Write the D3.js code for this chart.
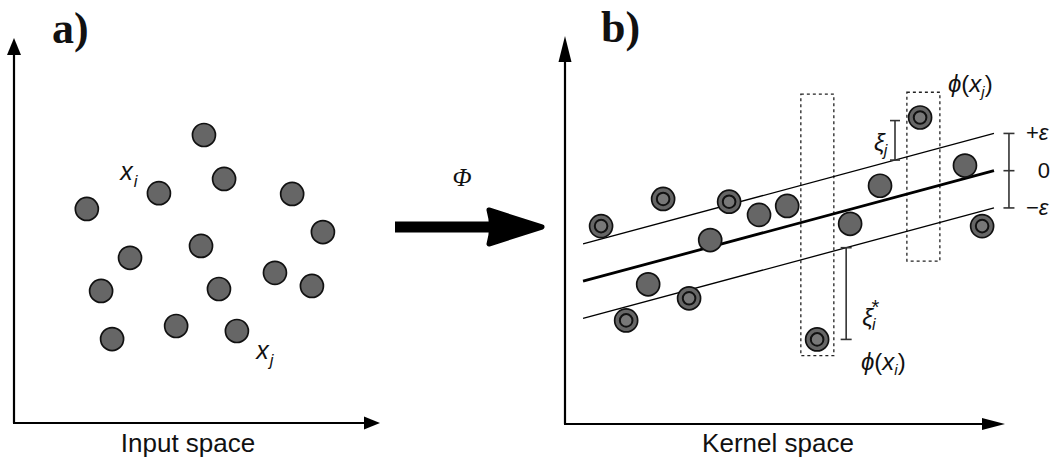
<!DOCTYPE html>
<html><head><meta charset="utf-8">
<script src="https://cdn.jsdelivr.net/npm/d3@7"></script>
<style>
body{margin:0;background:#fff}
svg{display:block}
text{font-family:"Liberation Sans",Arial,sans-serif;fill:#111}
.serif{font-family:"Liberation Serif","Times New Roman",serif}
</style>
</head><body>
<svg id="fig" width="1062" height="462"></svg>
<script>
// ---- Panel a: samples in the input space (abstract units 0..100) ----
const inputPoints = [
  [51.9, 74.8], [57.4, 63.4], [39.6, 59.7], [76.0, 59.5], [19.9, 55.6],
  [84.4, 49.6], [51.1, 46.0], [31.7, 42.9], [71.3, 39.0], [81.4, 35.6],
  [23.8, 34.3], [56.0, 34.8], [44.3, 25.2], [26.8, 21.8], [60.9, 23.9]
];
const inputLabels = [
  {base: "x", sub: "i", x: 29.0, y: 63.1},
  {base: "x", sub: "j", x: 66.2, y: 16.6}
];

// ---- Panel b: mapped samples in the kernel space ----
// third entry: 1 = support vector (ringed marker)
const kernelPoints = [
  [8.2, 51.0, 1], [22.3, 58.0, 1], [37.3, 57.3, 1], [44.1, 53.9, 0],
  [50.5, 56.2, 0], [33.0, 47.4, 0], [64.8, 51.6, 0], [71.6, 61.4, 0],
  [80.7, 79.0, 1], [90.9, 66.6, 0], [94.8, 51.0, 1], [18.9, 36.0, 0],
  [28.2, 32.4, 1], [13.9, 26.7, 1], [57.3, 21.8, 1]
];
// regression function f(x) = slope * x + intercept, with tube of half-width epsilon
const slope = 0.305;
const intercept = 35.55;
const epsilon = 9.6;
const fitRange = [4.1, 97.5];
// slack variables: position and the sample they reach
const slackUpper = {x: 75.0, to: 78.2};   // xi_j (above the tube)
const slackLower = {x: 63.9, to: 21.8};   // xi_i* (below the tube)
// dashed frames around the two outliers: [x0, x1, y0, y1]
const outlierFrames = [[53.6, 61.1, 17.6, 85.0], [77.7, 85.2, 42.0, 85.5]];
const tubeTicks = [
  {k: 1, label: "+ε"}, {k: 0, label: "0"}, {k: -1, label: "−ε"}
];
const tubeTickX = 100.9;

const svg = d3.select("#fig");

const xA = d3.scaleLinear().domain([0, 100]).range([14, 380]);
const yA = d3.scaleLinear().domain([0, 100]).range([423, 38]);
const xB = d3.scaleLinear().domain([0, 100]).range([565, 1005]);
const yB = d3.scaleLinear().domain([0, 100]).range([424, 36]);

const R = 11.5;

function marker(g, cx, cy, ringed) {
  g.append("circle").attr("cx", cx).attr("cy", cy).attr("r", R)
    .attr("fill", "#666").attr("stroke", "#111").attr("stroke-width", 1.7);
  if (ringed) {
    g.append("circle").attr("cx", cx).attr("cy", cy).attr("r", 6.3)
      .attr("fill", "#787878").attr("stroke", "#111").attr("stroke-width", 2);
  }
}

function axes(g, x0, y0, xEnd, yEnd, vHead, hHead) {
  g.append("line").attr("x1", x0).attr("y1", y0).attr("x2", x0).attr("y2", yEnd + vHead[0] - 2)
    .attr("stroke", "#000").attr("stroke-width", 2.2);
  g.append("line").attr("x1", x0 - 1).attr("y1", y0).attr("x2", xEnd - hHead[0] + 2).attr("y2", y0)
    .attr("stroke", "#000").attr("stroke-width", 2.2);
  g.append("path")
    .attr("d", `M${x0},${yEnd} L${x0 - vHead[1]},${yEnd + vHead[0]} L${x0 + vHead[1]},${yEnd + vHead[0]} Z`)
    .attr("fill", "#000");
  g.append("path")
    .attr("d", `M${xEnd},${y0} L${xEnd - hHead[0]},${y0 - hHead[1]} L${xEnd - hHead[0]},${y0 + hHead[1]} Z`)
    .attr("fill", "#000");
}

function subText(g, x, y, base, sub, size, opts = {}) {
  const t = g.append("text").attr("x", x).attr("y", y).attr("font-size", size);
  t.append("tspan").attr("font-style", "italic").text(base);
  t.append("tspan").attr("font-style", "italic").attr("font-size", opts.subSize || size * 0.66)
    .attr("dy", opts.dy || size * 0.28).attr("dx", opts.dx || 1).text(sub);
  return t;
}

// ===== Panel a =====
const ga = svg.append("g");
axes(ga, xA(0), yA(0), xA(100), yA(100), [17, 7], [16, 6.5]);
ga.append("text").attr("class", "serif").attr("x", 52).attr("y", 43)
  .attr("font-size", 44).attr("font-weight", "bold").text("a)");
ga.append("text").attr("x", 188).attr("y", 452).attr("text-anchor", "middle")
  .attr("font-size", 26).text("Input space");
inputPoints.forEach(p => marker(ga, xA(p[0]), yA(p[1]), false));
inputLabels.forEach(l => subText(ga, xA(l.x), yA(l.y), l.base, l.sub, 25, {dx: 0}));

// ===== Mapping arrow =====
const gm = svg.append("g");
gm.append("line").attr("x1", 395).attr("y1", 227).attr("x2", 500).attr("y2", 227)
  .attr("stroke", "#000").attr("stroke-width", 11);
gm.append("path").attr("d", "M489,210 L542,227 L489,244 Q494,227 489,210 Z")
  .attr("fill", "#000").attr("stroke", "#000").attr("stroke-width", 5).attr("stroke-linejoin", "round");
gm.append("text").attr("class", "serif").attr("x", 462).attr("y", 186)
  .attr("text-anchor", "middle").attr("font-size", 25).attr("font-style", "italic").text("Φ");

// ===== Panel b =====
const gb = svg.append("g");
axes(gb, xB(0), yB(0), xB(100), yB(100), [26, 6.5], [23, 6]);
gb.append("text").attr("class", "serif").attr("x", 601).attr("y", 42)
  .attr("font-size", 44).attr("font-weight", "bold").text("b)");
gb.append("text").attr("x", 778).attr("y", 452).attr("text-anchor", "middle")
  .attr("font-size", 26).text("Kernel space");

// outlier frames
outlierFrames.forEach(f => {
  gb.append("rect").attr("x", xB(f[0])).attr("y", yB(f[3]))
    .attr("width", xB(f[1]) - xB(f[0])).attr("height", yB(f[2]) - yB(f[3]))
    .attr("fill", "none").attr("stroke", "#222").attr("stroke-width", 1.3)
    .attr("stroke-dasharray", "3,3");
});

// regression line and the epsilon tube
const f = x => slope * x + intercept;
[[-1, 1.3], [0, 2.8], [1, 1.3]].forEach(([k, w]) => {
  gb.append("line")
    .attr("x1", xB(fitRange[0])).attr("y1", yB(f(fitRange[0]) + k * epsilon))
    .attr("x2", xB(fitRange[1])).attr("y2", yB(f(fitRange[1]) + k * epsilon))
    .attr("stroke", "#000").attr("stroke-width", w);
});

// samples
kernelPoints.forEach(p => marker(gb, xB(p[0]), yB(p[1]), p[2] === 1));

// error bar helper
function bar(x, y1, y2, half) {
  gb.append("line").attr("x1", x).attr("y1", y1).attr("x2", x).attr("y2", y2)
    .attr("stroke", "#333").attr("stroke-width", 1.6);
  [y1, y2].forEach(y => gb.append("line").attr("x1", x - half).attr("x2", x + half)
    .attr("y1", y).attr("y2", y).attr("stroke", "#333").attr("stroke-width", 1.6));
}

// tube width bracket on the right
const fEnd = f(fitRange[1]);
bar(xB(tubeTickX), yB(fEnd + epsilon), yB(fEnd - epsilon), 5.5);
gb.append("line").attr("x1", xB(tubeTickX) - 5.5).attr("x2", xB(tubeTickX) + 5.5)
  .attr("y1", yB(fEnd)).attr("y2", yB(fEnd)).attr("stroke", "#333").attr("stroke-width", 1.6);
tubeTicks.forEach(t => {
  const txt = gb.append("text").attr("y", yB(fEnd + t.k * epsilon) + 7).attr("font-size", 22);
  if (t.k === 0) {
    txt.attr("x", xB(tubeTickX) + 35).attr("text-anchor", "middle").text(t.label);
  } else {
    txt.attr("x", xB(tubeTickX) + 17);
    txt.append("tspan").text(t.label[0]);
    txt.append("tspan").attr("font-style", "italic").text(t.label.slice(1));
  }
});

// slack xi_j
bar(xB(slackUpper.x), yB(slackUpper.to), yB(f(slackUpper.x) + epsilon), 5);
subText(gb, xB(slackUpper.x) - 21, yB(slackUpper.to) + 30, "ξ", "j", 24, {dy: 5, dx: -1, subSize: 16});

// slack xi_i*
bar(xB(slackLower.x), yB(f(slackLower.x) - epsilon), yB(slackLower.to), 5.5);
const xs = subText(gb, xB(slackLower.x) + 16, yB(slackLower.to) - 13, "ξ", "i", 24, {dy: 4, dx: -1, subSize: 16});
xs.append("tspan").attr("font-size", 20).attr("dy", -16).attr("dx", -4).text("*");

// phi labels
function phiLabel(x, y, sub) {
  const t = gb.append("text").attr("x", x).attr("y", y).attr("font-size", 24);
  t.append("tspan").attr("font-style", "italic").text("ϕ");
  t.append("tspan").text("(");
  t.append("tspan").attr("font-style", "italic").text("x");
  t.append("tspan").attr("font-style", "italic").attr("font-size", 15).attr("dy", 5).text(sub);
  t.append("tspan").attr("dy", -5).text(")");
}
phiLabel(948, 92, "j");
phiLabel(861, 370, "i");
</script>
</body></html>
